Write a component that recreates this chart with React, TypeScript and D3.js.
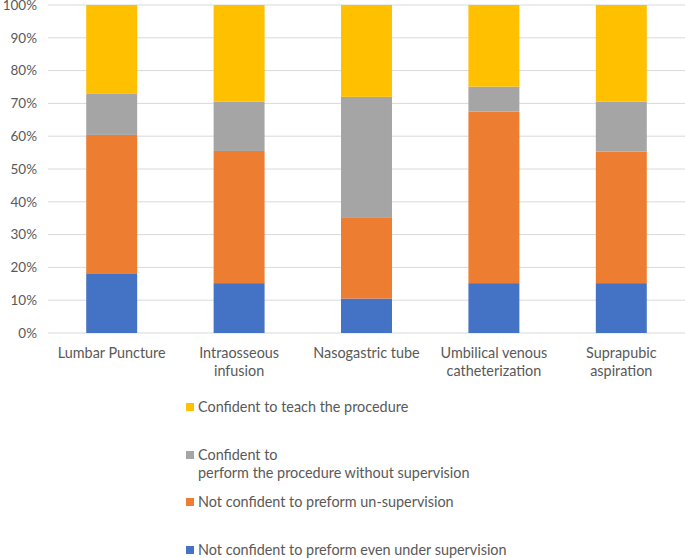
import * as d3 from 'd3'
import { useEffect, useRef } from 'react'

// Categories and stacked series (percent of respondents)
const procedures = [
  ['Lumbar Puncture'],
  ['Intraosseous', 'infusion'],
  ['Nasogastric tube'],
  ['Umbilical venous', 'catheterization'],
  ['Suprapubic', 'aspiration'],
]
const notEvenSupervised = [18.2, 15.2, 10.5, 15.2, 15.2]
const notUnsupervised = [42.2, 40.3, 24.8, 52.3, 40.1]
const performUnsupervised = [12.5, 15.0, 36.7, 7.6, 15.2]
const teach = [27.1, 29.5, 28.0, 24.9, 29.5]

const yTicks = [0, 10, 20, 30, 40, 50, 60, 70, 80, 90, 100]

const series = [
  { key: 'a', values: notEvenSupervised, color: '#4472C4', label: ['Not confident to preform even under supervision'] },
  { key: 'b', values: notUnsupervised, color: '#ED7D31', label: ['Not confident to preform un-supervision'] },
  { key: 'c', values: performUnsupervised, color: '#A5A5A5', label: ['Confident to', 'perform the procedure without supervision'] },
  { key: 'd', values: teach, color: '#FFC000', label: ['Confident to teach the procedure'] },
]

// legend order top to bottom, with row center y
const legendRows = [
  { s: 3, y: 407 },
  { s: 2, y: 455 },
  { s: 1, y: 502 },
  { s: 0, y: 550 },
]

export default function App() {
  const svgRef = useRef<SVGSVGElement>(null)

  useEffect(() => {
    if (!svgRef.current) return
    d3.select(svgRef.current).selectAll('*').remove()

    const width = 685
    const height = 558
    const svg = d3.select(svgRef.current).attr('width', width).attr('height', height)
    const font = 'Lato, "Open Sans", sans-serif'
    const textColor = '#595959'

    const x = d3
      .scaleBand()
      .domain(procedures.map((_, i) => String(i)))
      .range([48, 685])
      .paddingInner(0.6)
      .paddingOuter(0.3)

    const y = d3.scaleLinear().domain([0, 100]).range([333, 5])

    // gridlines
    svg
      .append('g')
      .selectAll('line')
      .data(yTicks)
      .enter()
      .append('line')
      .attr('x1', 48)
      .attr('x2', 685)
      .attr('y1', d => y(d))
      .attr('y2', d => y(d))
      .attr('stroke', '#d9d9d9')
      .attr('stroke-width', 1)

    // y tick labels
    svg
      .append('g')
      .selectAll('text')
      .data(yTicks)
      .enter()
      .append('text')
      .attr('x', 37)
      .attr('y', d => y(d))
      .attr('dy', '0.35em')
      .attr('text-anchor', 'end')
      .style('font-family', font)
      .style('font-size', '13.5px')
      .style('fill', textColor)
      .text(d => `${d}%`)

    // stacked bars
    const rows = procedures.map((_, i) => {
      const r: Record<string, number | string> = { idx: String(i) }
      series.forEach(s => (r[s.key] = s.values[i]))
      return r
    })
    const stack = d3.stack<Record<string, number | string>>().keys(series.map(s => s.key))
    const layers = stack(rows as any)

    layers.forEach((layer, li) => {
      svg
        .append('g')
        .selectAll('rect')
        .data(layer)
        .enter()
        .append('rect')
        .attr('x', d => x(String(d.data.idx))!)
        .attr('width', x.bandwidth())
        .attr('y', d => y(d[1]))
        .attr('height', d => y(d[0]) - y(d[1]))
        .attr('fill', series[li].color)
    })

    // x labels
    procedures.forEach((lines, i) => {
      const cx = x(String(i))! + x.bandwidth() / 2
      const t = svg
        .append('text')
        .attr('text-anchor', 'middle')
        .style('font-family', font)
        .style('font-size', '14.4px')
        .style('fill', textColor)
      lines.forEach((line, j) => {
        t.append('tspan').attr('x', cx).attr('y', 358 + j * 18).text(line)
      })
    })

    // legend
    legendRows.forEach(row => {
      const s = series[row.s]
      svg
        .append('rect')
        .attr('x', 186)
        .attr('y', row.y - 4)
        .attr('width', 8)
        .attr('height', 8)
        .attr('fill', s.color)
      const t = svg
        .append('text')
        .style('font-family', font)
        .style('font-size', '14.4px')
        .style('fill', textColor)
      s.label.forEach((line, j) => {
        t.append('tspan')
          .attr('x', 198)
          .attr('y', row.y + j * 18)
          .attr('dy', '0.35em')
          .text(line)
      })
    })
  }, [])

  return (
    <svg
      ref={svgRef}
      style={{ position: 'absolute', left: 0, top: 0, background: '#fff' }}
    ></svg>
  )
}
